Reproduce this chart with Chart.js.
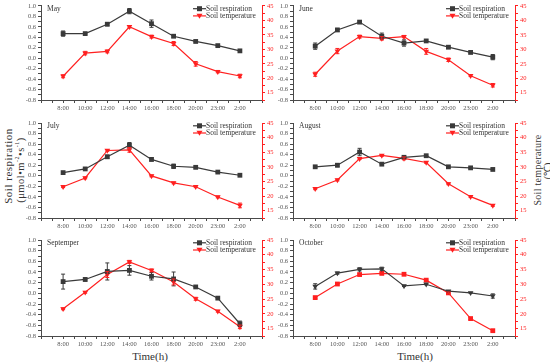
<!DOCTYPE html>
<html><head><meta charset="utf-8">
<script src="https://cdn.jsdelivr.net/npm/chart.js@4/dist/chart.umd.min.js"></script>
<style>
html,body{margin:0;padding:0;background:#fff;}
body{width:550px;height:362px;position:relative;overflow:hidden;font-family:"Liberation Serif",serif;}
canvas{position:absolute;}
.t{position:absolute;white-space:nowrap;color:#333;font-family:"Liberation Serif",serif;}
.rot{transform:translate(-50%,-50%) rotate(-90deg);}
.ctr{transform:translate(-50%,-50%);}
</style></head><body>
<div class="t rot" style="left:8px;top:166px;font-size:11px;letter-spacing:0.5px;">Soil respiration</div>
<div class="t rot" style="left:20px;top:170px;font-size:10.5px;letter-spacing:0.5px;">(μmol•m<sup style="font-size:6px">-2</sup>•s<sup style="font-size:6px">-1</sup>)</div>
<div class="t rot" style="left:537px;top:170px;font-size:10px;letter-spacing:0.3px;">Soil temperature</div>
<div class="t rot" style="left:547px;top:171px;font-size:10px;">(℃)</div>
<div class="t ctr" style="left:150px;top:356px;font-size:11px;">Time(h)</div>
<div class="t ctr" style="left:415px;top:356px;font-size:11px;">Time(h)</div>
<script>
// ---- data ----
const timeLabels = ['8:00','10:00','12:00','14:00','16:00','18:00','20:00','23:00','2:00'];
const months = ['May','June','July','August','Septemper','October'];
const respLeftTicks = [-0.8,-0.6,-0.4,-0.2,0.0,0.2,0.4,0.6,0.8,1.0];
const tempRightTicks = [15,20,25,30,35,40,45];

const respMay = [0.47,0.47,0.65,0.90,0.66,0.42,0.32,0.24,0.14];
const respMayErr = [0.05,0.02,0.03,0.05,0.07,0.02,0.01,0.01,0.01];
const tempMay = [20.7,28.7,29.3,37.8,34.4,32.0,25.0,22.3,20.8];
const tempMayErr = [0.5,0.6,0.5,0.4,0.5,0.7,0.8,0.4,0.6];

const respJune = [0.23,0.54,0.69,0.42,0.29,0.33,0.21,0.11,0.02];
const respJuneErr = [0.06,0.03,0.02,0.06,0.06,0.02,0.02,0.01,0.05];
const tempJune = [21.4,29.4,34.4,33.8,34.4,29.3,26.4,20.9,17.6];
const tempJuneErr = [0.7,0.9,0.5,0.6,0.4,1.0,0.6,0.3,0.6];

const respJuly = [0.06,0.13,0.36,0.58,0.31,0.18,0.16,0.07,0.01];
const respJulyErr = [0.01,0.02,0.03,0.05,0.03,0.04,0.01,0.01,0.01];
const tempJuly = [23.2,26.2,35.6,35.8,26.9,24.5,23.2,19.7,16.8];
const tempJulyErr = [0.3,0.3,0.3,0.8,0.3,0.3,0.3,0.3,0.8];

const respAugust = [0.17,0.20,0.45,0.22,0.35,0.38,0.17,0.15,0.12];
const respAugustErr = [0.02,0.03,0.07,0.01,0.02,0.01,0.01,0.01,0.01];
const tempAugust = [22.5,25.5,32.8,33.9,32.9,31.5,24.2,19.8,16.8];
const tempAugustErr = [0.3,0.3,0.3,0.3,0.5,0.3,0.3,0.3,0.3];

const respSept = [0.22,0.26,0.41,0.43,0.32,0.27,0.12,-0.09,-0.57];
const respSeptErr = [0.14,0.03,0.16,0.09,0.07,0.13,0.01,0.01,0.05];
const tempSept = [21.7,27.3,33.3,37.6,34.7,30.8,25.1,20.9,15.6];
const tempSeptErr = [0.3,0.3,1.0,0.5,0.5,1.0,0.5,0.3,0.6];

const respOct = [0.13,0.38,0.45,0.46,0.14,0.17,0.04,0.01,-0.05];
const respOctErr = [0.05,0.02,0.03,0.03,0.01,0.01,0.01,0.01,0.04];
const tempOct = [25.5,30.1,33.3,33.7,33.4,31.4,27.1,18.4,14.3];
const tempOctErr = [0.3,0.3,0.3,0.3,0.3,0.3,0.3,0.3,0.3];

const panelResp = [respMay,respJune,respJuly,respAugust,respSept,respOct];
const panelRespErr = [respMayErr,respJuneErr,respJulyErr,respAugustErr,respSeptErr,respOctErr];
const panelTemp = [tempMay,tempJune,tempJuly,tempAugust,tempSept,tempOct];
const panelTempErr = [tempMayErr,tempJuneErr,tempJulyErr,tempAugustErr,tempSeptErr,tempOctErr];

// ---- layout (page px) ----
const BLACK = '#3a3a3a', RED = '#ff2020', AXIS = '#4a4a4a', TICKTXT = '#555';
const cols = [{cx:0,cw:290,L:41,R:262},{cx:262,cw:288,L:293,R:515}];
const rows = [{cy:0,ch:116,T:5,B:100},{cy:112,ch:122,T:123,B:218},{cy:232,ch:120,T:240,B:336}];
const FONT = '"Liberation Serif", serif';

const errorBars = {
  id:'errorBars',
  afterDatasetsDraw(chart){
    const ctx = chart.ctx;
    chart.data.datasets.forEach((ds,i)=>{
      const meta = chart.getDatasetMeta(i);
      const sc = chart.scales[ds.yAxisID];
      ctx.save();
      ctx.strokeStyle = ds.borderColor; ctx.lineWidth = 1;
      ds.errs.forEach((e,j)=>{
        const p = meta.data[j]; const v = ds.data[j].y;
        const ya = sc.getPixelForValue(v+e), yb = sc.getPixelForValue(v-e);
        ctx.beginPath();
        ctx.moveTo(p.x, ya); ctx.lineTo(p.x, yb);
        ctx.moveTo(p.x-2, ya); ctx.lineTo(p.x+2, ya);
        ctx.moveTo(p.x-2, yb); ctx.lineTo(p.x+2, yb);
        ctx.stroke();
      });
      ctx.restore();
    });
  }
};

const inset = {
  id:'inset',
  afterDraw(chart, args, opts){
    const ctx = chart.ctx; const a = chart.chartArea;
    ctx.save();
    ctx.font = '7.5px ' + FONT; ctx.textBaseline = 'middle'; ctx.fillStyle = '#333';
    ctx.fillText(opts.month, a.left + 6, a.top + 2.8);
    const tx = a.right - 56;
    const rowsY = [a.top + 2.8, a.top + 10];
    const items = [{c:BLACK,label:'Soil respiration',m:'sq'},{c:RED,label:'Soil temperature',m:'tri'}];
    items.forEach((it,k)=>{
      const y = rowsY[k];
      ctx.strokeStyle = it.c; ctx.fillStyle = it.c; ctx.lineWidth = 1.2;
      ctx.beginPath(); ctx.moveTo(tx-13,y); ctx.lineTo(tx,y); ctx.stroke();
      const mx = tx-6.5;
      ctx.beginPath();
      if(it.m==='sq'){ ctx.rect(mx-2.5,y-2.5,5,5); }
      else { ctx.moveTo(mx-3,y-2.2); ctx.lineTo(mx+3,y-2.2); ctx.lineTo(mx,y+2.8); ctx.closePath(); }
      ctx.fill();
      ctx.fillStyle = '#333';
      ctx.fillText(it.label, tx, y);
    });
    ctx.restore();
  }
};

function makePanel(idx){
  const col = cols[idx%2], row = rows[Math.floor(idx/2)];
  const cv = document.createElement('canvas');
  cv.width = col.cw; cv.height = row.ch;
  cv.style.left = col.cx+'px'; cv.style.top = row.cy+'px';
  cv.style.width = col.cw+'px'; cv.style.height = row.ch+'px';
  document.body.appendChild(cv);
  const swap = idx===5;
  const tickFont = {family:FONT, size:6.5};
  new Chart(cv, {
    type:'line',
    data:{datasets:[
      {label:'Soil respiration', yAxisID:'y', data: panelResp[idx].map((v,i)=>({x:i+1,y:v})), errs: panelRespErr[idx],
       borderColor:BLACK, backgroundColor:BLACK, borderWidth:1.2, pointStyle: swap?'triangle':'rect', pointRotation: swap?180:0,
       pointRadius: swap?3.3:3.4, pointBorderWidth:0},
      {label:'Soil temperature', yAxisID:'y1', data: panelTemp[idx].map((v,i)=>({x:i+1,y:v})), errs: panelTempErr[idx],
       borderColor:RED, backgroundColor:RED, borderWidth:1.2, pointStyle: swap?'rect':'triangle', pointRotation: swap?0:180,
       pointRadius: swap?3.4:3.3, pointBorderWidth:0}
    ]},
    options:{
      animation:false, responsive:false, devicePixelRatio:1,
      layout:{padding:{top: row.T-row.cy, left:0, right:0, bottom:0}},
      plugins:{legend:{display:false}, tooltip:{enabled:false}, inset:{month: months[idx]}},
      scales:{
        x:{type:'linear', min:0, max:10,
           ticks:{stepSize:0.5, autoSkip:false, maxRotation:0, padding:1, color:TICKTXT, font:tickFont,
                  callback:(v)=>{const n=Math.round(v*2)/2; return (Number.isInteger(n)&&n>=1&&n<=9)?timeLabels[n-1]:'';}},
           grid:{drawOnChartArea:false, drawTicks:true, tickLength:3, color:AXIS},
           border:{color:AXIS, width:1},
           afterFit(s){ s.height = row.cy+row.ch-row.B; }},
        y:{position:'left', min:-0.8, max:1.0,
           ticks:{stepSize:0.1, autoSkip:false, padding:2, color:TICKTXT, font:tickFont,
                  callback:(v)=>{const n=Math.round(v*10); const t=respLeftTicks.find(q=>Math.round(q*10)===n); return (t!==undefined)?t.toFixed(1):'';}},
           grid:{drawOnChartArea:false, tickLength:3, color:AXIS},
           border:{color:AXIS, width:1},
           afterFit(s){ s.width = col.L-col.cx; }},
        y1:{position:'right', min:12.5, max:45,
           ticks:{stepSize:2.5, autoSkip:false, padding:2, color:RED, font:tickFont,
                  callback:(v)=>{const t=tempRightTicks.find(q=>Math.abs(q-v)<0.01); return (t!==undefined)?String(t):'';}},
           grid:{drawOnChartArea:false, tickLength:3, color:RED},
           border:{color:RED, width:1},
           afterFit(s){ s.width = col.cx+col.cw-col.R; }}
      }
    },
    plugins:[errorBars, inset]
  });
}
for(let i=0;i<6;i++) makePanel(i);
</script>
</body></html>
